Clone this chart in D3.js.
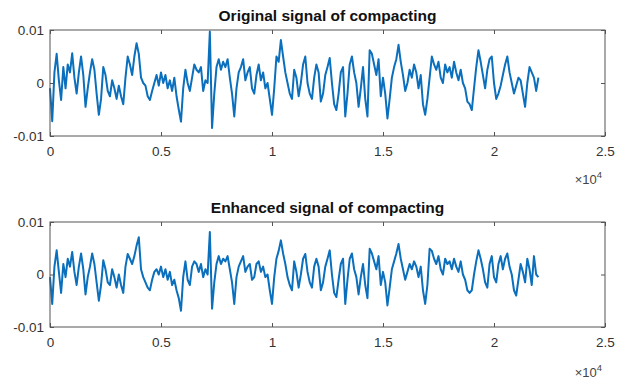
<!DOCTYPE html>
<html><head><meta charset="utf-8">
<script src="https://cdn.jsdelivr.net/npm/d3@7"></script>
<style>body{margin:0;background:#fff}svg{display:block}</style>
</head><body>
<script>
// sample index step (samples) and values in units of 1e-4
const sampleStep = 100;
const titles = ["Original signal of compacting", "Enhanced signal of compacting"];
const xTicks = [0, 5000, 10000, 15000, 20000, 25000];
const xTickLabels = ["0", "0.5", "1", "1.5", "2", "2.5"];
const yTicks = [-0.01, 0, 0.01];
const yTickLabels = ["-0.01", "0", "0.01"];
const originalSignal = [
-10,-72,20,55,5,-32,30,-10,35,20,56,10,-20,20,50,15,-45,-10,20,45,
25,-20,-60,-30,30,15,-15,-25,5,-10,-30,-5,-25,-40,10,50,35,15,50,75,
55,10,0,-5,-25,-32,-15,0,15,-5,20,0,15,-10,5,-15,10,-25,-50,-73,
-10,25,0,-15,10,35,25,20,30,-15,5,0,97,-85,-20,30,45,25,40,30,
45,10,-20,-63,-10,20,30,45,5,20,30,-10,-20,15,35,5,20,-10,0,-30,
-60,-10,50,40,81,50,20,0,-20,-30,25,10,-25,0,35,50,0,-20,-30,10,
35,20,-35,-20,15,30,47,0,-40,-51,-20,20,30,-63,-20,35,50,20,0,-45,
-10,30,-30,-63,62,55,35,15,45,-25,10,-20,-67,-30,10,30,45,72,40,15,
-15,0,25,10,35,20,-10,15,-40,-60,-30,10,50,35,25,40,10,0,35,20,
30,10,40,20,5,25,0,-10,-35,-40,-51,-10,30,62,40,15,-10,25,45,50,
0,-30,-20,-5,15,35,50,20,0,-20,-5,10,5,-20,-45,0,30,20,10,-15,10
];
const enhancedSignal = [
-5,-56,15,46,5,-35,20,-5,30,15,43,5,-20,15,40,10,-38,-5,15,40,
20,-15,-50,-20,27,10,-15,-20,10,-5,-25,0,-20,-35,15,39,30,20,35,55,
71,10,-5,-15,-25,-30,-10,5,10,0,15,-5,10,-10,5,-20,-10,-30,-45,-69,
-5,25,-10,-20,15,25,20,5,20,-5,10,0,81,-65,-15,20,35,20,30,25,
35,10,-15,-56,-5,15,25,35,5,15,20,-10,-5,20,25,5,15,-5,0,-30,
-56,-5,30,45,65,40,20,-5,-20,-30,25,5,-25,0,30,39,5,-15,-25,15,
30,15,-30,-15,15,30,46,0,-35,-43,-10,20,30,-56,-10,30,40,10,-5,-38,
-5,20,-20,-45,49,40,25,10,35,-20,5,-15,-59,-25,10,25,40,58,30,10,
-10,5,20,10,25,15,-5,15,-30,-56,-20,49,45,30,20,35,10,0,30,20,
25,10,30,15,5,25,0,-10,-30,-35,-30,0,25,46,30,10,-15,-25,20,35,
-5,-15,20,35,10,30,40,15,0,-30,-40,-10,20,5,-15,30,10,-20,35,0,-5
];

const W = 625, H = 382;
const svg = d3.select("body").append("svg").attr("width", W).attr("height", H)
  .style("font-family", "'Liberation Sans', Arial, sans-serif");

const panels = [
  {title: titles[0], data: originalSignal, top: 30, bottom: 136, titleY: 21, expY: 184},
  {title: titles[1], data: enhancedSignal, top: 222, bottom: 327, titleY: 213, expY: 377}
];
const left = 50, right = 605;
const x = d3.scaleLinear().domain([0, 25000]).range([left, right]);

panels.forEach(p => {
  const y = d3.scaleLinear().domain([-0.01, 0.01]).range([p.bottom, p.top]);
  const g = svg.append("g");
  const line = d3.line().x((d, i) => x(i * sampleStep)).y(d => y(d * 1e-4));
  g.append("path").datum(p.data).attr("d", line)
    .attr("fill", "none").attr("stroke", "#0a6fbc").attr("stroke-width", 2)
    .attr("stroke-linejoin", "round");

  const styleAxis = sel => {
    sel.select(".domain").remove();
    sel.selectAll(".tick line").attr("stroke", "#555");
    sel.selectAll(".tick text").attr("fill", "#333").style("font-size", "13.5px");
  };
  g.append("g").attr("transform", `translate(0,${p.bottom})`)
    .call(d3.axisBottom(x).tickValues(xTicks).tickFormat((d, i) => xTickLabels[i]).tickSize(-4).tickPadding(10))
    .call(styleAxis);
  g.append("g").attr("transform", `translate(0,${p.top})`)
    .call(d3.axisTop(x).tickValues(xTicks).tickFormat("").tickSize(-4))
    .call(styleAxis);
  g.append("g").attr("transform", `translate(${left},0)`)
    .call(d3.axisLeft(y).tickValues(yTicks).tickFormat((d, i) => yTickLabels[i]).tickSize(-4).tickPadding(6))
    .call(styleAxis);
  g.append("g").attr("transform", `translate(${right},0)`)
    .call(d3.axisRight(y).tickValues(yTicks).tickFormat("").tickSize(-4))
    .call(styleAxis);
  g.append("rect").attr("x", left).attr("y", p.top).attr("width", right - left).attr("height", p.bottom - p.top)
    .attr("fill", "none").attr("stroke", "#555").attr("stroke-width", 1);

  g.append("text").attr("x", (left + right) / 2).attr("y", p.titleY).attr("text-anchor", "middle")
    .style("font-size", "15.5px").style("font-weight", "bold").attr("fill", "#111").text(p.title);
  const t = g.append("text").attr("x", 602).attr("y", p.expY).attr("text-anchor", "end")
    .style("font-size", "13px").attr("fill", "#444");
  t.append("tspan").text("×10");
  t.append("tspan").attr("dy", -6).style("font-size", "9.5px").text("4");
});
</script>
</body></html>
